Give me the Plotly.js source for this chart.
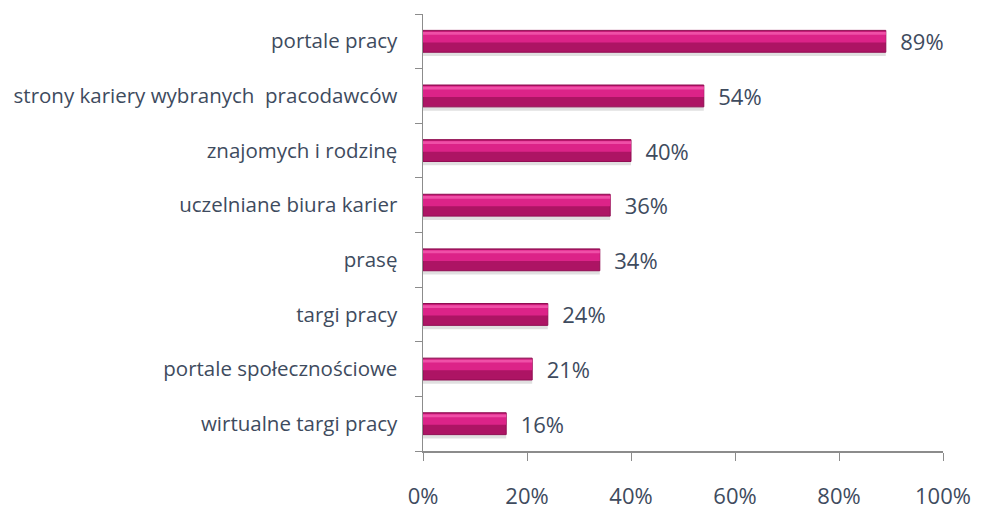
<!DOCTYPE html>
<html>
<head>
<meta charset="utf-8">
<script src="https://cdn.plot.ly/plotly-3.0.1.min.js"></script>
<style>
  html, body { margin: 0; padding: 0; background: #fff; }
  #chart { width: 981px; height: 512px; }
</style>
</head>
<body>
<div id="chart"></div>
<script>
// Categories, bottom to top as drawn
const categories = [
  "wirtualne targi pracy",
  "portale społecznościowe",
  "targi pracy",
  "prasę",
  "uczelniane biura karier",
  "znajomych i rodzinę",
  "strony kariery wybranych  pracodawców",
  "portale pracy"
];
const shares = [0.16, 0.21, 0.24, 0.34, 0.36, 0.40, 0.54, 0.89];
const tickValues = [0, 0.2, 0.4, 0.6, 0.8, 1.0];
const tickLabels = ["0%", "20%", "40%", "60%", "80%", "100%"];

const textColor = "#3e4b5e";
const family = "Open Sans, sans-serif";
const catFont = { family: family, size: 20.5, color: textColor };
const numFont = { family: family, size: 22, color: textColor };

// soft shadow under the bars
const shadow = {
  type: "bar", orientation: "h",
  x: shares, y: categories,
  width: 0.4, offset: -0.27,
  marker: { color: "rgba(0,0,0,0.12)", line: { width: 0 } },
  hoverinfo: "skip"
};

// main bar (darker lower half)
const bars = {
  type: "bar", orientation: "h",
  x: shares, y: categories,
  width: 0.4, offset: -0.2,
  marker: { color: "#ad1464", line: { color: "#900d52", width: 1 } },
  text: shares.map(v => "  " + Math.round(v * 100) + "%"),
  textposition: "outside",
  constraintext: "none",
  textfont: numFont,
  cliponaxis: false,
  hoverinfo: "skip"
};

// brighter upper half
const upper = {
  type: "bar", orientation: "h",
  x: shares, y: categories,
  width: 0.2, offset: -0.02,
  marker: { color: "#dc2388", line: { width: 0 } },
  hoverinfo: "skip"
};

// thin light strip along the top edge
const shine = {
  type: "bar", orientation: "h",
  x: shares, y: categories,
  width: 0.05, offset: 0.12,
  marker: { color: "#ef4fa7", line: { width: 0 } },
  hoverinfo: "skip"
};

const layout = {
  width: 981,
  height: 512,
  margin: { l: 423, r: 38, t: 14, b: 61 },
  paper_bgcolor: "#fff",
  plot_bgcolor: "#fff",
  barmode: "overlay",
  showlegend: false,
  font: catFont,
  xaxis: {
    range: [0, 1],
    tickvals: tickValues,
    ticktext: tickLabels,
    showgrid: false,
    zeroline: false,
    showline: true,
    linecolor: "#8c8c8c",
    linewidth: 1.5,
    ticks: "outside",
    ticklen: 8,
    tickcolor: "#8c8c8c",
    ticklabelstandoff: 17,
    tickfont: numFont
  },
  yaxis: {
    categoryorder: "array",
    categoryarray: categories,
    showgrid: false,
    zeroline: false,
    showline: true,
    linecolor: "#8c8c8c",
    linewidth: 1.5,
    ticks: "outside",
    tickson: "boundaries",
    ticklen: 7,
    tickcolor: "#8c8c8c",
    ticklabelstandoff: 20,
    tickfont: catFont
  }
};

Plotly.newPlot("chart", [shadow, bars, upper, shine], layout, { displayModeBar: false, staticPlot: true });
</script>
</body>
</html>
